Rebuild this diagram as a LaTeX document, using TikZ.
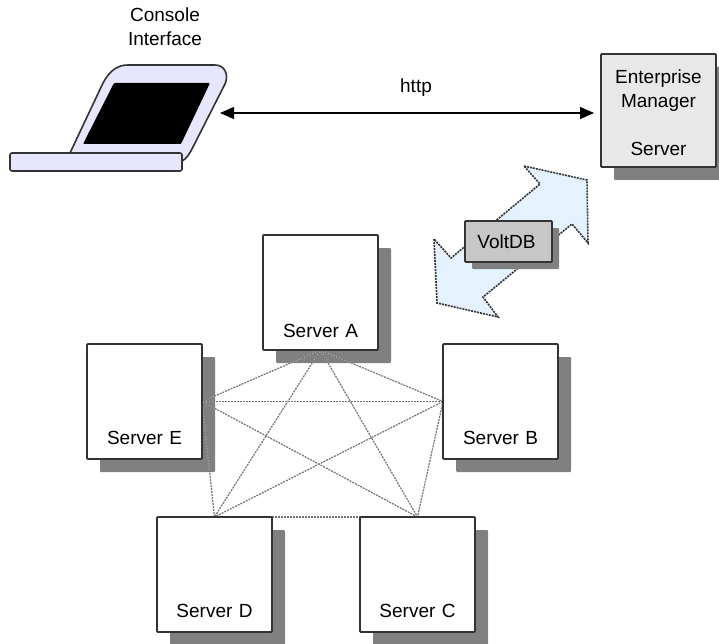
\documentclass[tikz,border=0pt]{standalone}
\usepackage{fontspec}
\setmainfont{Liberation Sans}
\usetikzlibrary{positioning, arrows.meta, backgrounds}
\definecolor{laptopfill}{HTML}{E6E6FF}
\definecolor{boxline}{HTML}{333333}
\definecolor{shadowgray}{HTML}{808080}
\definecolor{flowfill}{HTML}{E4F2FF}
\tikzset{
	>={Triangle[length=14pt,width=12pt]},
	every node/.style={font=\fontsize{19}{24}\selectfont},
	serverbox/.style={draw=boxline, line width=1.8pt, fill=white, rounded corners=1pt, inner sep=0pt, outer sep=0pt, align=center, text width=115pt, text height=100pt, text depth=15pt},
	managerbox/.style={draw=boxline, line width=1.8pt, fill=black!9, rounded corners=1pt, inner sep=0pt, outer sep=0pt, align=center, minimum width=115pt, minimum height=113pt},
	voltbox/.style={draw=boxline, line width=1.8pt, fill=black!22, rounded corners=1pt, inner sep=0pt, outer sep=0pt, minimum width=87pt, minimum height=41pt},
	boxshadow/.style={fill=shadowgray, rounded corners=1pt},
	mesh/.style={draw=black!55, line width=1.2pt, dash pattern=on 2pt off 1pt, preaction={draw=white, solid, line width=1pt, opacity=.5}},
	laptop/.style={draw=boxline, line width=1.6pt, fill=laptopfill, line join=round}}

\begin{document}
\begin{tikzpicture}[x=1pt, y=-1pt]
	\useasboundingbox (0,0) rectangle (719,644);

	\node[serverbox, text height=102pt, text depth=13pt] (serverA) at (320.5,292.5) {Server A};
	\node[serverbox, below right=-6pt and 65pt of serverA] (serverB) {Server B};
	\node[serverbox, below left=-6pt and 61pt of serverA] (serverE) {Server E};
	\node[serverbox, below left=58pt and -32pt of serverB] (serverC) {Server C};
	\node[serverbox, below right=58pt and -45pt of serverE] (serverD) {Server D};

	\node[managerbox] (manager) at (658.5,110.5) {\rule{0pt}{18pt}Enterprise\\Manager\\[24pt]Server};
	\node[voltbox] (voltdb) at (508.5,241.5) {VoltDB\kern4pt};
	\node[align=center] (console) at (165,27) {Console\\Interface};
	\node (http) at (416,88) {http};

	% laptop
	\draw[laptop] (70,153) -- (103,83) .. controls (110,70) and (118,65) .. (128,65) -- (215,65)
		.. controls (225,65) and (229,75) .. (225,84) -- (193,147) .. controls (189,155) and (186,159) .. (182,161) -- cycle;
	\fill[black, rounded corners=1pt] (114,83) -- (210,83) -- (181,144) -- (83,144) -- cycle;
	\draw[laptop, rounded corners=2pt] (10,153) rectangle (182,171);

	\coordinate (consolePort) at (220,113);
	\coordinate (managerPort) at (594,113);
	\draw[<->, line width=1.2pt, black] (consolePort) -- (managerPort);

	\begin{pgfonlayer}{background}
		\foreach \n in {serverA, serverB, serverC, serverD, serverE, manager}
			\fill[boxshadow] ([shift={(13,13)}]\n.north west) rectangle ([shift={(13,13)}]\n.south east);

		\draw[mesh] (serverA.south) -- (serverB.west);
		\draw[mesh] (serverA.south) -- (serverC.north);
		\draw[mesh] (serverA.south) -- (serverD.north);
		\draw[mesh] (serverA.south) -- (serverE.east);
		\draw[mesh] (serverB.west) -- (serverC.north);
		\draw[mesh] (serverB.west) -- (serverD.north);
		\draw[mesh] (serverB.west) -- (serverE.east);
		\draw[mesh] (serverC.north) -- (serverD.north);
		\draw[mesh] (serverC.north) -- (serverE.east);
		\draw[mesh] (serverD.north) -- (serverE.east);

		% replication arrow
		\draw[draw=boxline, line width=1.6pt, dash pattern=on 2pt off 1pt, fill=flowfill]
			(524,166) -- (587,180) -- (588,243) -- (572,224) -- (483,297) -- (498,317)
			-- (437,303) -- (434,239) -- (451,258) -- (540,184) -- cycle;
		\fill[boxshadow] ([shift={(7,7)}]voltdb.north west) rectangle ([shift={(7,7)}]voltdb.south east);
	\end{pgfonlayer}
\end{tikzpicture}
\end{document}
